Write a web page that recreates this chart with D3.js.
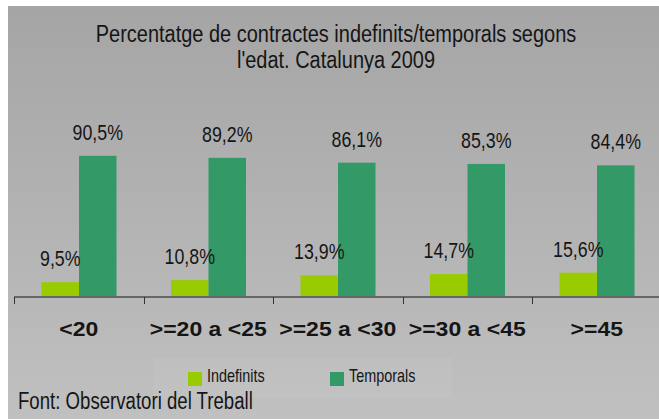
<!DOCTYPE html>
<html><head><meta charset="utf-8">
<script src="https://cdn.jsdelivr.net/npm/d3@7"></script>
<style>
html,body{margin:0;padding:0;background:#fff;}
svg{display:block;}
text{font-family:"Liberation Sans",Arial,sans-serif;}
</style>
</head><body>
<svg id="chart" width="659" height="419"></svg>
<script>
const categories = ["<20", ">=20 a <25", ">=25 a <30", ">=30 a <45", ">=45"];
const seriesNames = ["Indefinits", "Temporals"];
const indefinits = [9.5, 10.8, 13.9, 14.7, 15.6];
const temporals = [90.5, 89.2, 86.1, 85.3, 84.4];
const titleLines = ["Percentatge de contractes indefinits/temporals segons", "l'edat. Catalunya 2009"];
const sourceText = "Font: Observatori del Treball";
const colors = ["#99cc00", "#339966"];

const svg = d3.select("#chart");
const W = 659, H = 419;

// text helper: horizontally scaled text (narrow look)
function stext(sel, x, y, sx, size, anchor, str, weight) {
  const g = sel.append("g").attr("transform", `translate(${x},${y}) scale(${sx},1)`);
  g.append("text").attr("text-anchor", anchor).attr("font-size", size)
    .attr("font-weight", weight || "normal").attr("fill", "#151515")
    .attr("xml:space","preserve").text(str);
  return g;
}

const defs = svg.append("defs");
const grad = defs.append("linearGradient").attr("id","bg").attr("x1",0).attr("y1",0).attr("x2",0).attr("y2",1);
grad.append("stop").attr("offset","0%").attr("stop-color","#a5a5a5");
grad.append("stop").attr("offset","100%").attr("stop-color","#c0c0c0");
svg.append("rect").attr("x",8).attr("y",6).attr("width",W-8).attr("height",H-6).attr("fill","url(#bg)");

// title
titleLines.forEach((t,i)=>stext(svg, 336, 42 + i*26, 0.85, 23.5, "middle", t));

const axisY = 297;
const x0 = d3.scaleBand().domain(categories).range([14, 661.5]).paddingInner(0).paddingOuter(0);
const x1 = d3.scaleBand().domain(seriesNames).range([27.5, 102.5]).padding(0);
const y = d3.scaleLinear().domain([0,100]).range([axisY, 141]);

const data = categories.map((c,i)=>({cat:c, vals:[indefinits[i], temporals[i]]}));

const groups = svg.append("g").selectAll("g").data(data).join("g")
  .attr("transform", d=>`translate(${x0(d.cat)},0)`);
groups.selectAll("rect").data(d=>d.vals.map((v,j)=>({v, s:seriesNames[j], j}))).join("rect")
  .attr("x", d=>x1(d.s)).attr("width", x1.bandwidth())
  .attr("y", d=>y(d.v)).attr("height", d=>axisY - y(d.v))
  .attr("fill", d=>colors[d.j]);
groups.each(function(d){
  const g = d3.select(this);
  d.vals.forEach((v,j)=>{
    stext(g, x1(seriesNames[j]) + x1.bandwidth()/2, y(v) - 16, 0.79, 22.5, "middle",
      d3.format(".1f")(v).replace(".",",") + "%");
  });
});

// axis
const axis = d3.axisBottom(x0).tickSize(0).tickFormat("");
const ag = svg.append("g").attr("transform",`translate(0,${axisY})`).call(axis);
ag.select(".domain").remove();
svg.append("line").attr("x1",14).attr("x2",W).attr("y1",axisY).attr("y2",axisY)
  .attr("stroke","#666").attr("stroke-width",2);
const bounds = categories.map(c=>x0(c));
svg.append("g").selectAll("line").data(bounds).join("line")
  .attr("x1",d=>Math.round(d)+0.5).attr("x2",d=>Math.round(d)+0.5)
  .attr("y1",axisY).attr("y2",axisY+7).attr("stroke","#333").attr("stroke-width",1);

const cg = svg.append("g");
categories.forEach(c=>{
  stext(cg, x0(c)+x0.bandwidth()/2, 336, 1.18, 19.5, "middle", c, "bold");
});

// legend
svg.append("rect").attr("x",153).attr("y",358).attr("width",299).attr("height",40).attr("fill","#ffffff").attr("opacity",0.06);
const legendX = [188, 330];
seriesNames.forEach((s,i)=>{
  svg.append("rect").attr("x",legendX[i]).attr("y",372).attr("width",14).attr("height",14).attr("fill",colors[i]);
  stext(svg, legendX[i]+19, 382, 0.8, 18, "start", s);
});

stext(svg, 18, 409, 0.76, 24.5, "start", sourceText);
</script>
</body></html>
